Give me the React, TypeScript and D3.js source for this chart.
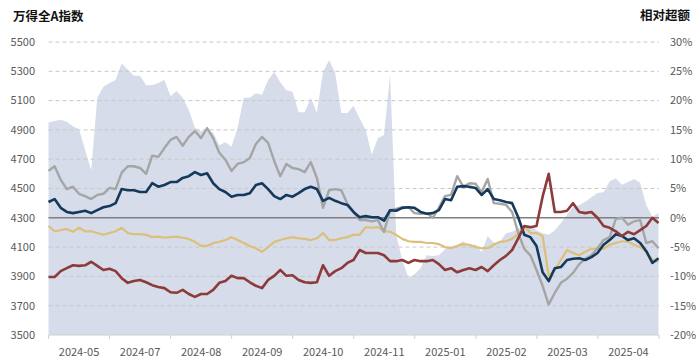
import React from 'react';
import * as d3 from 'd3';

// 万得全A指数 (left axis), sampled along the trading days
const indexValues = [
  4950, 4960, 4970, 4955, 4925, 4905, 4765, 4625, 5120, 5195,
  5220, 5240, 5355, 5310, 5270, 5270, 5205, 5205, 5220, 5240,
  5130, 5165, 5120, 5035, 4915, 4890, 4900, 4880, 4795, 4815,
  4785, 4915, 5120, 5120, 5150, 5140, 5240, 5295, 5225, 5170,
  5160, 5020, 5020, 5120, 5015, 5295, 5375, 5290, 5015, 5015,
  5065, 4980, 4900, 4730, 4845, 4865, 5275, 4185, 4010, 3890,
  3915, 3955, 4045, 4040, 4045, 4085, 4105, 4115, 4140, 4105,
  4120, 4065, 4175, 4130, 4135, 4195, 4205, 4225, 4250, 4250,
  4215, 4195, 4185, 4215, 4265, 4320, 4375, 4385, 4410, 4440,
  4470, 4475, 4550, 4570, 4525, 4545, 4565, 4540, 4385, 4305,
  4335,
];

// 相对超额 (%), right axis
const navySeries = [
  2.7, 3.2, 1.7, 1.0, 0.8, 1.0, 1.2, 0.8, 1.3, 1.8,
  2.0, 2.5, 4.9, 4.7, 4.7, 4.4, 4.4, 5.9, 5.3, 5.6,
  6.1, 6.1, 6.8, 7.1, 7.8, 7.3, 7.6, 5.9, 4.9, 4.4,
  3.6, 3.9, 3.9, 4.2, 5.6, 5.9, 4.9, 3.7, 3.2, 3.9,
  3.6, 4.2, 4.9, 5.3, 4.9, 2.9, 3.4, 2.9, 2.5, 2.2,
  1.0, 0.1, 0.3, 0.1, 0.1, -0.5, 1.3, 1.2, 1.7, 1.8,
  1.7, 1.0, 0.7, 0.8, 1.3, 3.2, 3.0, 5.3, 5.4, 5.3,
  5.1, 3.9, 4.9, 3.2, 3.0, 2.7, 2.5, 0.1, -2.9, -3.3,
  -4.8, -9.3, -10.8, -8.6, -8.4, -7.2, -7.0, -6.9, -7.2, -6.7,
  -6.0, -4.6, -3.8, -2.8, -3.1, -3.8, -3.5, -4.3, -5.7, -7.7,
  -6.9,
];

const graySeries = [
  8.0, 8.8, 6.5, 4.9, 5.3, 4.1, 3.7, 3.2, 3.9, 4.1,
  5.1, 4.9, 7.7, 8.8, 8.8, 8.5, 7.5, 10.6, 10.4, 11.9,
  13.3, 13.8, 12.3, 13.8, 14.8, 13.6, 15.3, 13.6, 11.1, 9.9,
  8.0, 9.2, 9.5, 10.2, 12.6, 13.8, 12.8, 9.7, 7.1, 9.2,
  8.5, 8.3, 7.8, 9.5, 6.8, 1.7, 4.7, 4.9, 4.7, 2.4,
  1.0, -0.4, -0.4, -0.6, -0.4, -2.4, 1.3, 1.5, 1.8, 1.8,
  0.8, 0.7, 0.8, 0.0, 1.7, 3.7, 3.9, 7.1, 5.3, 5.9,
  5.8, 4.4, 6.6, 2.5, 2.4, 2.2, 1.0, -2.6, -5.3, -6.4,
  -8.9, -11.6, -14.8, -12.8, -11.1, -10.4, -9.4, -7.9, -7.0, -6.4,
  -5.2, -3.8, -3.3, -0.2, 0.0, -1.2, -0.6, -0.4, -4.3, -4.0,
  -5.2,
];

const goldSeries = [
  -1.4, -2.3, -2.1, -1.9, -2.4, -1.7, -2.3, -2.3, -2.6, -2.9,
  -2.6, -2.3, -1.7, -2.6, -2.8, -2.8, -2.9, -3.3, -3.2, -3.4,
  -3.3, -3.2, -3.4, -3.6, -4.1, -4.8, -4.8, -4.3, -4.1, -3.8,
  -3.3, -3.8, -4.3, -4.8, -5.2, -5.8, -5.0, -4.1, -3.8, -3.5,
  -3.3, -3.5, -3.6, -3.8, -3.5, -2.6, -3.8, -3.8, -3.5, -3.3,
  -2.9, -2.9, -1.6, -1.7, -1.6, -2.3, -2.4, -2.9, -3.6, -4.0,
  -4.1, -4.1, -4.3, -4.3, -4.5, -5.0, -5.2, -4.8, -4.5, -4.6,
  -5.0, -5.2, -5.2, -4.6, -4.1, -4.0, -3.6, -2.8, -1.4, -2.6,
  -2.6, -3.1, -9.9, -8.9, -7.2, -5.5, -6.0, -6.4, -5.8, -5.3,
  -5.3, -5.3, -4.6, -4.3, -4.0, -4.1, -4.6, -5.0, -5.8, -7.2,
  -7.5,
];

const redSeries = [
  -10.1, -10.1, -9.1, -8.6, -8.1, -8.2, -8.1, -7.5, -8.2, -8.9,
  -8.7, -9.1, -10.3, -11.1, -10.8, -10.6, -11.0, -11.5, -11.8, -12.0,
  -12.7, -12.8, -12.3, -13.0, -13.5, -13.0, -13.0, -12.3, -11.1, -10.8,
  -9.9, -10.3, -10.3, -11.0, -11.6, -12.0, -10.6, -9.9, -8.9, -9.9,
  -9.8, -10.6, -11.0, -11.1, -11.0, -8.1, -9.9, -9.1, -8.6, -7.7,
  -7.2, -5.5, -6.0, -6.0, -6.0, -6.4, -7.4, -7.4, -7.2, -7.7,
  -7.2, -7.4, -7.4, -7.2, -7.9, -8.9, -8.6, -9.3, -8.9, -8.6,
  -8.9, -8.4, -9.1, -8.1, -7.2, -6.5, -5.5, -3.5, -1.4, -1.6,
  -1.4, 3.6, 7.5, 1.0, 1.0, 1.2, 2.5, 1.0, 0.8, 1.0,
  0.0, -1.4, -1.7, -2.3, -3.1, -2.4, -2.8, -2.1, -1.4, 0.0,
  -0.9,
];

const xLabels = ['2024-05', '2024-07', '2024-08', '2024-09', '2024-10', '2024-11', '2025-01', '2025-02', '2025-03', '2025-04'];
const leftTicks = [3500, 3700, 3900, 4100, 4300, 4500, 4700, 4900, 5100, 5300, 5500];
const rightTicks = [-20, -15, -10, -5, 0, 5, 10, 15, 20, 25, 30];

const W = 700;
const H = 362;
const left = 48.5;
const right = 659;
const top = 42;
const bottom = 335;

const font = '"Noto Sans CJK SC", "Liberation Sans", sans-serif';

export default function App() {
  const n = indexValues.length;
  const x = d3.scaleLinear().domain([0, n - 1]).range([left, right - 0.5]);
  const band = d3.scaleBand().domain(xLabels).range([left, right]);
  const yL = d3.scaleLinear().domain([3500, 5500]).range([bottom, top]);
  const yR = d3.scaleLinear().domain([-20, 30]).range([bottom, top]);

  const area = d3.area<number>()
    .x((_, i) => x(i))
    .y0(yL(3500))
    .y1(d => yL(d));
  const line = d3.line<number>()
    .x((_, i) => x(i))
    .y(d => yR(d));

  const series = [
    { data: goldSeries, color: '#dcc07a', w: 2.2 },
    { data: graySeries, color: '#a5a5a5', w: 2.4 },
    { data: navySeries, color: '#14395c', w: 2.6 },
    { data: redSeries, color: '#8c3a3a', w: 2.6 },
  ];

  const tickXs = [...xLabels.map(l => band(l) as number), right];

  return (
    <div>
      <style>{`body{margin:0}`}</style>
      <svg width={W} height={H} style={{ display: 'block' }}>
        <rect width={W} height={H} fill="#fff" />
        <path d={area(indexValues) || ''} fill="#d6dce9" />

        {leftTicks.filter(t => t !== 3500 && t !== 4300).map(t => (
          <line key={t} x1={left} x2={right} y1={yL(t)} y2={yL(t)}
            stroke="#c8c8c8" strokeWidth={1} strokeDasharray="4,3" />
        ))}

        <line x1={left} x2={right} y1={yL(3500)} y2={yL(3500)} stroke="#d0d0d0" strokeWidth={1} />
        {tickXs.map((t, i) => (
          <line key={i} x1={t} x2={t} y1={bottom} y2={bottom + 4} stroke="#d0d0d0" strokeWidth={1} />
        ))}

        <line x1={left} x2={right} y1={yR(0)} y2={yR(0)} stroke="#7f7f7f" strokeWidth={1.5} />

        {series.map((s, i) => (
          <path key={i} d={line(s.data) || ''} fill="none" stroke={s.color}
            strokeWidth={s.w} strokeLinejoin="round" />
        ))}

        {leftTicks.map(t => (
          <text key={t} x={35} y={yL(t)} dy="0.35em" textAnchor="end"
            fontSize={11} fill="#595959" fontFamily={font}>{t}</text>
        ))}
        {rightTicks.map(t => (
          <text key={t} x={670} y={yR(t)} dy="0.35em" textAnchor="start"
            fontSize={11} fill="#595959" fontFamily={font}>{`${t}%`}</text>
        ))}
        {xLabels.map(l => (
          <text key={l} x={(band(l) as number) + band.bandwidth() / 2} y={352} dy="0.35em"
            textAnchor="middle" fontSize={11} fill="#595959" fontFamily={font}>{l}</text>
        ))}

        <text x={13} y={17} dy="0.35em" fontSize={12.5} fontWeight={700} fill="#111" fontFamily={font}>万得全A指数</text>
        <text x={690} y={16} dy="0.35em" textAnchor="end" fontSize={12.5} fontWeight={700} fill="#111" fontFamily={font}>相对超额</text>
      </svg>
    </div>
  );
}
